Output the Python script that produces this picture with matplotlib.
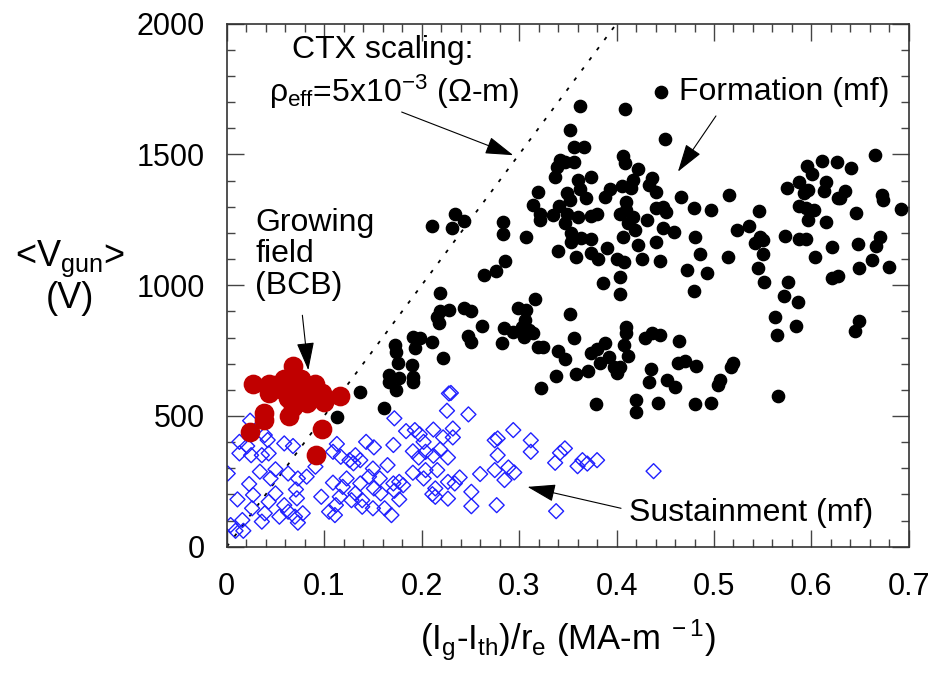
import numpy as np
import matplotlib.pyplot as plt
from matplotlib.ticker import MultipleLocator

plt.rcParams['font.family'] = 'Liberation Sans'
plt.rcParams['mathtext.fontset'] = 'custom'
plt.rcParams['mathtext.rm'] = 'Liberation Sans'
plt.rcParams['mathtext.it'] = 'Liberation Sans'
plt.rcParams['mathtext.bf'] = 'Liberation Sans:bold'

# formation (mf), black dots
form_x = [0.211, 0.234, 0.243, 0.231, 0.283, 0.283, 0.286, 0.276, 0.264, 0.219,
          0.219, 0.216, 0.218, 0.228, 0.243, 0.251, 0.262, 0.248, 0.251, 0.211,
          0.191, 0.198, 0.193, 0.222, 0.173, 0.174, 0.176, 0.190, 0.166, 0.166,
          0.177, 0.191, 0.191, 0.174, 0.137, 0.161, 0.113, 0.284, 0.294, 0.282,
          0.299,
          0.362, 0.409, 0.352, 0.450, 0.356, 0.367, 0.407, 0.409, 0.342, 0.347,
          0.356, 0.339, 0.337, 0.360, 0.374, 0.422, 0.417, 0.436, 0.433, 0.441,
          0.406, 0.415, 0.393, 0.388, 0.363, 0.349, 0.369, 0.352, 0.319, 0.314,
          0.321, 0.321, 0.335, 0.341, 0.349, 0.347, 0.360, 0.374, 0.380, 0.410,
          0.404, 0.410, 0.417, 0.412, 0.419, 0.431, 0.440, 0.448, 0.451, 0.448,
          0.459, 0.466, 0.479, 0.307, 0.353, 0.353, 0.364, 0.374, 0.340, 0.358,
          0.374, 0.381, 0.390, 0.400, 0.408, 0.407, 0.422, 0.426, 0.441, 0.445,
          0.472, 0.479, 0.480, 0.486, 0.404, 0.386, 0.404, 0.316, 0.307, 0.306,
          0.314, 0.305, 0.352, 0.319, 0.325, 0.340, 0.347, 0.338, 0.322, 0.356,
          0.358, 0.371, 0.374, 0.380, 0.388, 0.383, 0.392, 0.397, 0.400, 0.404,
          0.410, 0.410, 0.408, 0.412, 0.379, 0.420, 0.420, 0.429, 0.436, 0.445,
          0.464, 0.463, 0.470, 0.435, 0.433, 0.452, 0.460, 0.443, 0.482, 0.480,
          0.303, 0.310,
          0.665, 0.641, 0.626, 0.611, 0.595, 0.601, 0.615, 0.587, 0.575, 0.596,
          0.592, 0.613, 0.634, 0.629, 0.627, 0.672, 0.673, 0.587, 0.594, 0.603,
          0.646, 0.596, 0.615, 0.546, 0.515, 0.497, 0.536, 0.524, 0.547, 0.550,
          0.542, 0.573, 0.587, 0.594, 0.621, 0.648, 0.670, 0.666, 0.604, 0.550,
          0.514, 0.493, 0.545, 0.551, 0.576, 0.572, 0.586, 0.563, 0.584, 0.565,
          0.662, 0.649, 0.680, 0.621, 0.627, 0.649, 0.645, 0.520, 0.517, 0.506,
          0.504, 0.566, 0.497, 0.692]
form_y = [1227, 1271, 1247, 1217, 1243, 1196, 1094, 1055, 1039, 969,
          903, 880, 854, 905, 912, 903, 844, 806, 784, 784,
          803, 797, 759, 723, 771, 746, 701, 695, 657, 631,
          644, 650, 631, 599, 590, 532, 497, 835, 822, 778,
          912,
          1685, 1673, 1593, 1557, 1529, 1529, 1494, 1468, 1478, 1472,
          1472, 1453, 1412, 1404, 1415, 1443, 1404, 1408, 1383, 1357,
          1379, 1370, 1366, 1336, 1366, 1351, 1332, 1325, 1357, 1306,
          1274, 1249, 1268, 1302, 1274, 1236, 1262, 1264, 1272, 1319,
          1274, 1287, 1262, 1236, 1211, 1249, 1294, 1300, 1281, 1217,
          1204, 1336, 1294, 1185, 1198, 1166, 1179, 1175, 1132, 1106,
          1122, 1102, 1141, 1102, 1090, 1183, 1153, 1102, 1166, 1094,
          1058, 979, 1185, 1121, 1032, 1007, 966, 947, 905, 867,
          816, 803, 888, 765, 765, 749, 716, 654, 606, 797,
          660, 673, 742, 755, 778, 701, 727, 688, 663, 688,
          841, 816, 771, 729, 546, 561, 516, 797, 816, 809,
          788, 701, 711, 678, 631, 637, 612, 548, 691, 546,
          840, 830,
          1497, 1449, 1472, 1474, 1457, 1424, 1396, 1393, 1370, 1364,
          1351, 1360, 1361, 1334, 1334, 1345, 1325, 1304, 1297, 1287,
          1277, 1249, 1243, 1283, 1345, 1287, 1226, 1211, 1183, 1173,
          1160, 1189, 1175, 1175, 1145, 1157, 1185, 1151, 1109, 1119,
          1109, 1045, 1064, 1013, 1013, 959, 937, 877, 844, 810,
          1096, 1064, 1068, 1029, 1036, 864, 826, 701, 688, 638,
          618, 578, 548, 1290]

# sustainment (mf), open blue diamonds
sus_x = [0.024, 0.013, 0.021, 0.013, 0.025, 0.036, 0.042, 0.039, 0.043, 0.059,
         0.068, 0.001, 0.034, 0.050, 0.045, 0.063, 0.073, 0.082, 0.091, 0.023,
         0.027, 0.011, 0.050, 0.043, 0.071, 0.072, 0.059, 0.026, 0.039, 0.016,
         0.036, 0.004, 0.009, 0.017, 0.054, 0.063, 0.070, 0.078, 0.073, 0.097,
         0.109, 0.113, 0.109, 0.117, 0.119, 0.123, 0.116, 0.112, 0.105, 0.111,
         0.130, 0.132, 0.126, 0.137, 0.143, 0.151, 0.150, 0.146, 0.157, 0.151,
         0.158, 0.137, 0.132, 0.128, 0.139, 0.150, 0.162, 0.139, 0.165, 0.171,
         0.172, 0.171, 0.169,
         0.228, 0.230, 0.226, 0.248, 0.184, 0.193, 0.198, 0.202, 0.212, 0.222,
         0.232, 0.232, 0.191, 0.197, 0.204, 0.212, 0.219, 0.227, 0.191, 0.204,
         0.216, 0.202, 0.177, 0.181, 0.172, 0.177, 0.227, 0.234, 0.239, 0.214,
         0.211, 0.214, 0.227, 0.251, 0.251, 0.260, 0.275, 0.278, 0.278, 0.275,
         0.289, 0.295, 0.285, 0.277, 0.294, 0.312, 0.312,
         0.347, 0.342, 0.337, 0.360, 0.365, 0.370, 0.380, 0.438, 0.338]
sus_y = [482, 401, 385, 357, 350, 350, 408, 427, 357, 395,
         385, 280, 287, 296, 261, 280, 261, 268, 306, 240,
         198, 181, 204, 172, 219, 185, 159, 147, 128, 102,
         96, 83, 61, 61, 115, 134, 115, 128, 92, 191,
         245, 393, 363, 344, 229, 261, 191, 159, 134, 121,
         319, 350, 331, 331, 401, 380, 299, 268, 261, 223,
         204, 242, 204, 178, 178, 147, 147, 153, 312, 389,
         491, 242, 121,
         586, 588, 520, 506, 442, 446, 430, 401, 448, 418,
         452, 418, 365, 341, 363, 348, 372, 341, 283, 293,
         293, 261, 248, 235, 214, 181, 248, 242, 265, 223,
         201, 191, 184, 210, 155, 278, 407, 414, 350, 293,
         303, 284, 255, 159, 446, 407, 363,
         376, 359, 321, 308, 331, 318, 331, 289, 136]

# growing field (BCB), red dots
bcb_x = [0.068, 0.027, 0.043, 0.043, 0.059, 0.068, 0.078, 0.091, 0.098, 0.082,
         0.068, 0.064, 0.100, 0.116, 0.038, 0.038, 0.024, 0.098, 0.092, 0.073,
         0.050, 0.058, 0.086, 0.063, 0.076, 0.088]
bcb_y = [691, 621, 621, 586, 643, 599, 618, 624, 586, 548,
         535, 500, 554, 576, 512, 484, 440, 449, 350, 567,
         618, 600, 590, 570, 640, 600]

# CTX scaling line, rho_eff = 5e-3 Ohm-m
ctx_x = [0.0, 0.4]
ctx_y = [0.0, 2000.0]

xticks = [0, 0.1, 0.2, 0.3, 0.4, 0.5, 0.6, 0.7]
xlabels = ['0', '0.1', '0.2', '0.3', '0.4', '0.5', '0.6', '0.7']
yticks = [0, 500, 1000, 1500, 2000]

fig = plt.figure(figsize=(9.37, 6.75), dpi=100)
ax = fig.add_axes([0.242, 0.190, 0.728, 0.775])

ax.plot(ctx_x, ctx_y, color='black', lw=1.3, ls=(0, (2, 5)), zorder=1)
ax.scatter(sus_x, sus_y, marker='D', s=58, facecolors='none',
           edgecolors='#2020ff', linewidths=1.0, zorder=2)
form = ax.scatter(form_x, form_y, s=78, color='black', zorder=3)
ax.scatter(bcb_x, bcb_y, s=174, color='#c00000', zorder=4)

ax.set_xlim(0, 0.7)
ax.set_ylim(0, 2000)
ax.set_xticks(xticks)
ax.set_xticklabels(xlabels)
ax.set_yticks(yticks)
ax.xaxis.set_minor_locator(MultipleLocator(0.02))
ax.yaxis.set_minor_locator(MultipleLocator(100))
ax.tick_params(which='both', direction='in', top=True, right=True,
               color='#444444', width=1)
ax.tick_params(which='major', length=12, labelsize=22)
ax.tick_params(which='minor', length=6)
ax.tick_params(axis='x', which='major', pad=18)
ax.tick_params(axis='y', which='major', pad=16)
for sp in ax.spines.values():
    sp.set_color('#333333')
    sp.set_linewidth(1.2)

ax.set_xlabel('(I$_g$-I$_{th}$)/r$_e$ (MA-m$^{\\ -1}$)', fontsize=25)
ax.xaxis.set_label_coords(0.5, -0.135)
ax.set_ylabel('<$V_{gun}$>\n(V)', fontsize=26, rotation=0,
              ha='center', va='center', linespacing=1.1)
ax.yaxis.set_label_coords(-0.23, 0.515)

# annotations
ax.text(0.067, 1899, 'CTX scaling:', fontsize=23, va='center')
ax.text(0.043, 1738, '$ρ_{eff}$=5x10$^{-3}$ (Ω-m)', fontsize=23, va='center')
ax.annotate('', xy=(0.294, 1497), xytext=(0.1795, 1662),
            arrowprops=dict(arrowstyle='-|>,head_length=0.8,head_width=0.25',
                            color='black', lw=0.8, shrinkA=0, shrinkB=0,
                            mutation_scale=22))

ax.legend([form], ['Formation (mf)'], loc='center left',
          bbox_to_anchor=(0.623, 0.869), frameon=False, fontsize=23,
          handlelength=0.6, handletextpad=0.25, borderpad=0,
          borderaxespad=0, scatterpoints=1)
ax.annotate('', xy=(0.463, 1434), xytext=(0.502, 1647),
            arrowprops=dict(arrowstyle='-|>,head_length=0.8,head_width=0.25',
                            color='black', lw=0.8, shrinkA=0, shrinkB=0,
                            mutation_scale=22))

ax.text(0.029, 1294, 'Growing\nfield\n(BCB)', fontsize=23, va='top',
        linespacing=1.05)
ax.annotate('', xy=(0.0837, 675), xytext=(0.0776, 885),
            arrowprops=dict(arrowstyle='-|>,head_length=0.8,head_width=0.25',
                            color='black', lw=0.8, shrinkA=0, shrinkB=0,
                            mutation_scale=22))

ax.text(0.4126, 98, 'Sustainment (mf)', fontsize=23, va='baseline')
ax.annotate('', xy=(0.3086, 229), xytext=(0.4046, 147),
            arrowprops=dict(arrowstyle='-|>,head_length=0.8,head_width=0.25',
                            color='black', lw=0.8, shrinkA=0, shrinkB=0,
                            mutation_scale=22))

fig.savefig('out.png', dpi=100)
